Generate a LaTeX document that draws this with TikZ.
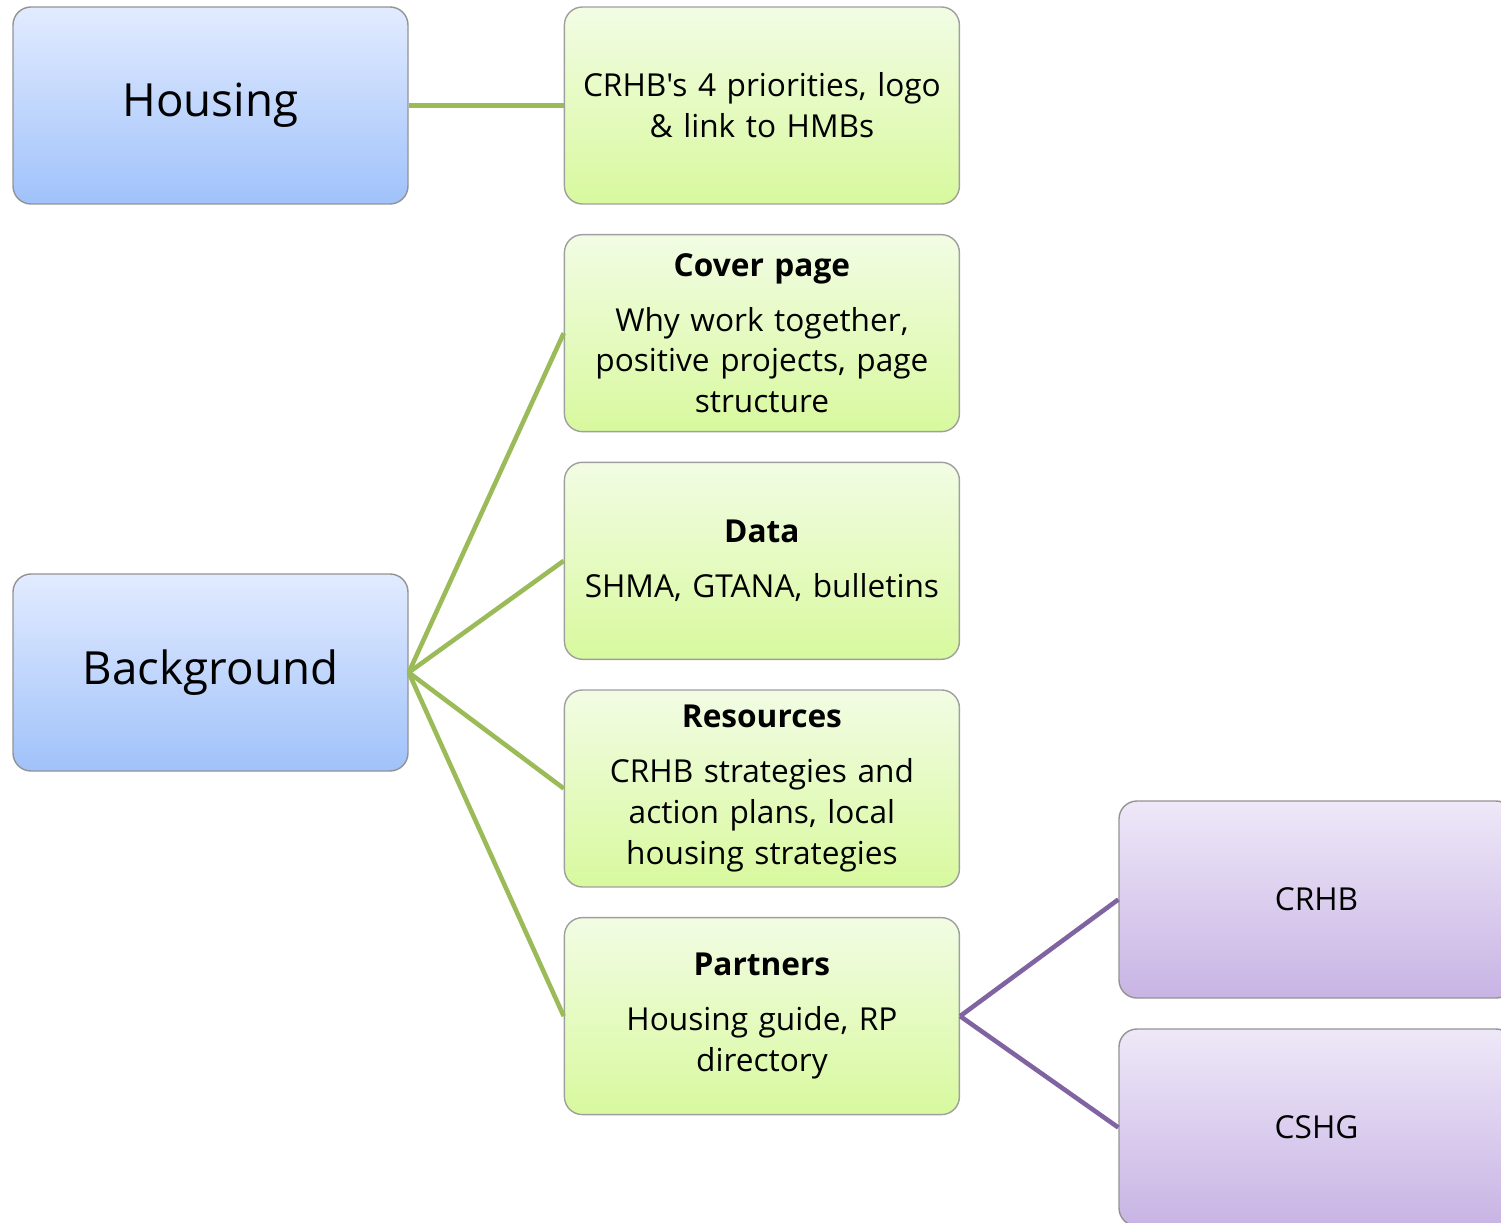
\documentclass[tikz,border=0pt]{standalone}
\usepackage{fontspec}
\setmainfont{Open Sans}[Ligatures=TeXOff]
\usetikzlibrary{positioning}
\usepackage{xcolor}
\definecolor{hbluetop}{RGB}{226,235,255}
\definecolor{hbluebot}{RGB}{160,194,250}
\definecolor{hgreentop}{RGB}{242,252,228}
\definecolor{hgreenbot}{RGB}{216,249,158}
\definecolor{hpurpletop}{RGB}{238,232,248}
\definecolor{hpurplebot}{RGB}{200,180,228}
\definecolor{hgreenline}{RGB}{155,187,89}
\definecolor{hpurpleline}{RGB}{128,100,162}
\tikzstyle{topic} = [rectangle, rounded corners=0.36cm, minimum width=7.9cm, minimum height=3.94cm, text centered, draw=gray!85, line width=0.8pt, top color=hbluetop, bottom color=hbluebot, font=\fontsize{26}{30}\selectfont]
\tikzstyle{item} = [rectangle, rounded corners=0.36cm, minimum width=7.9cm, minimum height=3.94cm, text width=7.5cm, align=center, draw=gray!75, line width=0.8pt, top color=hgreentop, bottom color=hgreenbot, font=\fontsize{18}{23.3}\selectfont]
\tikzstyle{group} = [rectangle, rounded corners=0.36cm, minimum width=7.9cm, minimum height=3.94cm, text centered, draw=gray!85, line width=0.8pt, top color=hpurpletop, bottom color=hpurplebot, font=\fontsize{18}{23.3}\selectfont]
\tikzstyle{glink} = [line width=2.6pt, color=hgreenline]
\tikzstyle{plink} = [line width=2.6pt, color=hpurpleline]

\begin{document}
\begin{tikzpicture}[node distance=0.585cm]
\useasboundingbox (0,0) rectangle (30.02,-24.46);
\node (housing) [topic] at (4.21,-2.11) {Housing};
\node (background) [topic] at (4.21,-13.45) {Background};
\node (logo) [item, right=3.1cm of housing] {CRHB's 4 priorities, logo\\ \& link to HMBs};
\node (cover) [item, below=of logo] {\textbf{Cover page}\\[8pt] Why work together,\\ positive projects, page\\ structure};
\node (data) [item, below=of cover] {\textbf{Data}\\[8pt] SHMA, GTANA, bulletins};
\node (resources) [item, below=of data] {\textbf{Resources}\\[8pt] CRHB strategies and\\ action plans, local\\ housing strategies};
\node (partners) [item, below=of resources] {\textbf{Partners}\\[8pt] Housing guide, RP\\ directory};
\node (crhb) [group] at (26.33,-17.99) {CRHB};
\node (cshg) [group] at (26.33,-22.55) {CSHG};

\draw [glink] (housing.east) -- (logo.west);
\draw [glink] (background.east) -- (cover.west);
\draw [glink] (background.east) -- (data.west);
\draw [glink] (background.east) -- (resources.west);
\draw [glink] (background.east) -- (partners.west);
\draw [plink] (partners.east) -- (crhb.west);
\draw [plink] (partners.east) -- (cshg.west);
\end{tikzpicture}
\end{document}
